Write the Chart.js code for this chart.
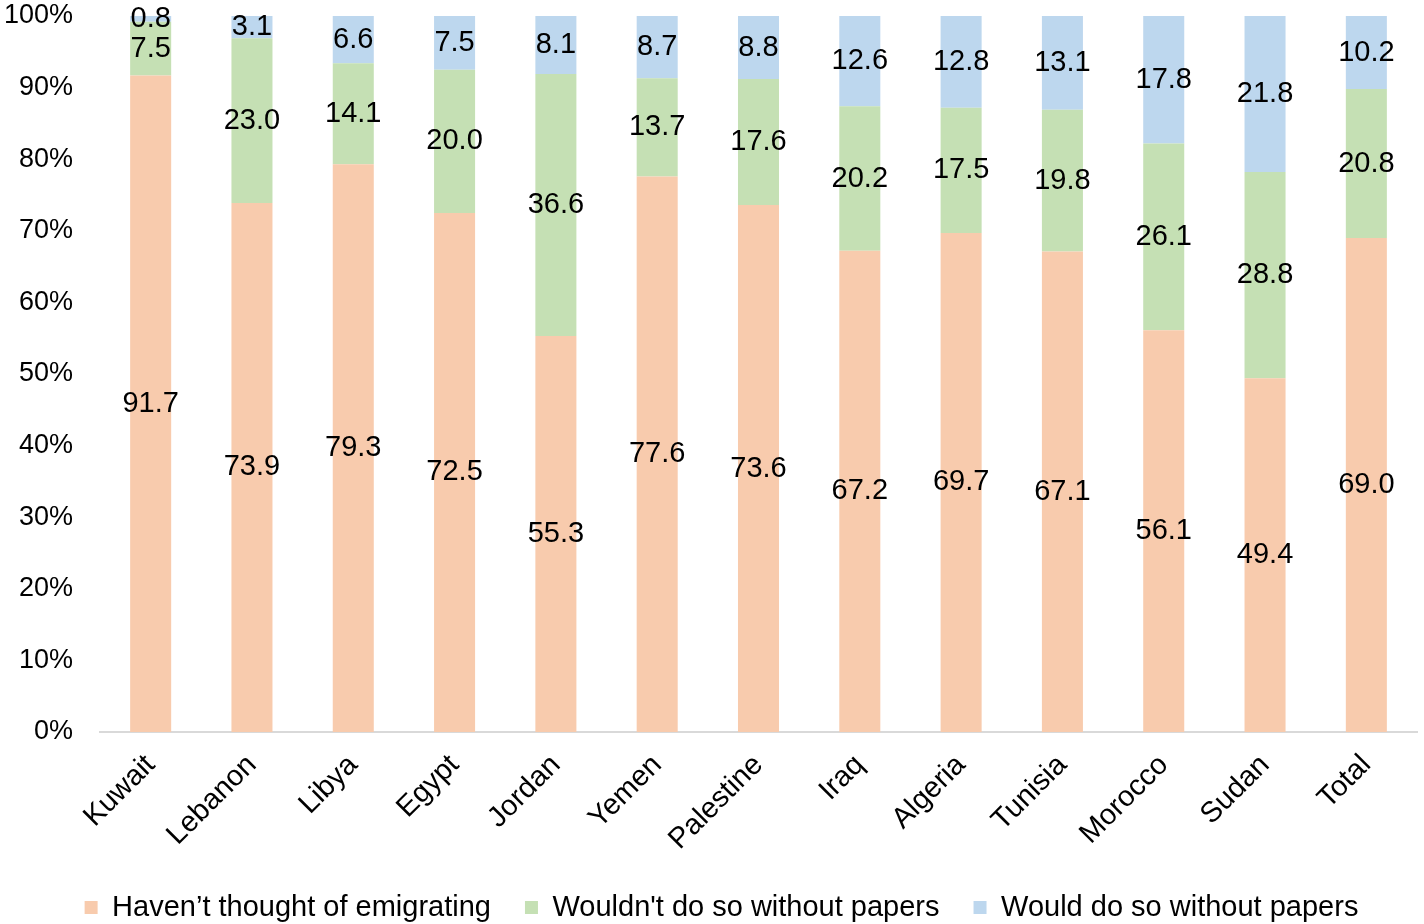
<!DOCTYPE html>
<html>
<head>
<meta charset="utf-8">
<script src="https://cdn.jsdelivr.net/npm/chart.js@4.4.0/dist/chart.umd.min.js"></script>
<style>
    body { margin: 0; background: #fff; }
    #wrap { width: 1424px; height: 924px; }
</style>
</head>
<body>
<div id="wrap"><canvas id="emigChart" width="1424" height="924"></canvas></div>
<script>
const countries = ['Kuwait', 'Lebanon', 'Libya', 'Egypt', 'Jordan', 'Yemen', 'Palestine', 'Iraq', 'Algeria', 'Tunisia', 'Morocco', 'Sudan', 'Total'];
const notThought = [91.7, 73.9, 79.3, 72.5, 55.3, 77.6, 73.6, 67.2, 69.7, 67.1, 56.1, 49.4, 69.0];
const wouldntNoPapers = [7.5, 23.0, 14.1, 20.0, 36.6, 13.7, 17.6, 20.2, 17.5, 19.8, 26.1, 28.8, 20.8];
const wouldNoPapers = [0.8, 3.1, 6.6, 7.5, 8.1, 8.7, 8.8, 12.6, 12.8, 13.1, 17.8, 21.8, 10.2];
const yTicks = [0, 10, 20, 30, 40, 50, 60, 70, 80, 90, 100];

const fontFamily = '"Liberation Sans", Arial, sans-serif';
const fontSize = 29;

// simple label plugin, writes the value in the middle of each segment
const segmentLabels = {
    id: 'segmentLabels',
    afterDatasetsDraw(chart) {
        const ctx = chart.ctx;
        ctx.save();
        ctx.font = fontSize + 'px ' + fontFamily;
        ctx.fillStyle = '#000';
        ctx.textAlign = 'center';
        ctx.textBaseline = 'middle';
        chart.data.datasets.forEach((ds, i) => {
            const meta = chart.getDatasetMeta(i);
            meta.data.forEach((bar, j) => {
                const mid = (bar.y + bar.base) / 2;
                ctx.fillText(ds.data[j].toFixed(1), bar.x, mid);
            });
        });
        ctx.restore();
    }
};

// nudge the legend a little to the right, the original is centred on the plot
const legendShift = {
    id: 'legendShift',
    afterLayout(chart) {
        if (chart.legend) {
            chart.legend.left += 10;
            chart.legend.right += 10;
        }
    }
};

const ctx = document.getElementById('emigChart').getContext('2d');
new Chart(ctx, {
    type: 'bar',
    data: {
        labels: countries,
        datasets: [
            {
                label: 'Haven\u2019t thought of emigrating',
                data: notThought,
                backgroundColor: '#F8CBAD'
            },
            {
                label: "Wouldn't do so without papers",
                data: wouldntNoPapers,
                backgroundColor: '#C5E0B4'
            },
            {
                label: 'Would do so without papers',
                data: wouldNoPapers,
                backgroundColor: '#BDD7EE'
            }
        ]
    },
    options: {
        responsive: false,
        animation: false,
        layout: {
            padding: { left: 6, right: 7, top: 16, bottom: -8 }
        },
        datasets: {
            bar: {
                barPercentage: 0.405,
                categoryPercentage: 1.0,
                borderWidth: 0
            }
        },
        scales: {
            x: {
                stacked: true,
                grid: { display: false, drawTicks: false },
                border: { display: true, color: '#D9D9D9', width: 2 },
                ticks: {
                    color: '#000',
                    font: { family: fontFamily, size: fontSize },
                    maxRotation: 45,
                    minRotation: 45,
                    padding: 16
                },
                afterFit: function (scale) {
                    // let the rotated first label hang left of the plot like the original
                    scale.paddingLeft = 0;
                    scale.paddingRight = 0;
                    scale.height -= 14;
                }
            },
            y: {
                stacked: true,
                min: 0,
                max: 100,
                afterBuildTicks: function (axis) {
                    axis.ticks = yTicks.map(v => ({ value: v }));
                },
                afterFit: function (scale) {
                    scale.paddingTop = 0;
                    scale.paddingBottom = 0;
                    scale.width = 94;
                },
                grid: { display: false, drawTicks: false },
                border: { display: false },
                ticks: {
                    color: '#000',
                    padding: 27,
                    font: { family: fontFamily, size: 27 },
                    callback: function (value) {
                        return value + '%';
                    }
                }
            }
        },
        plugins: {
            legend: {
                position: 'bottom',
                labels: {
                    color: '#000',
                    boxWidth: 13,
                    boxHeight: 13,
                    padding: 34,
                    font: { family: fontFamily, size: fontSize }
                }
            },
            tooltip: { enabled: false }
        }
    },
    plugins: [segmentLabels, legendShift]
});
</script>
</body>
</html>
